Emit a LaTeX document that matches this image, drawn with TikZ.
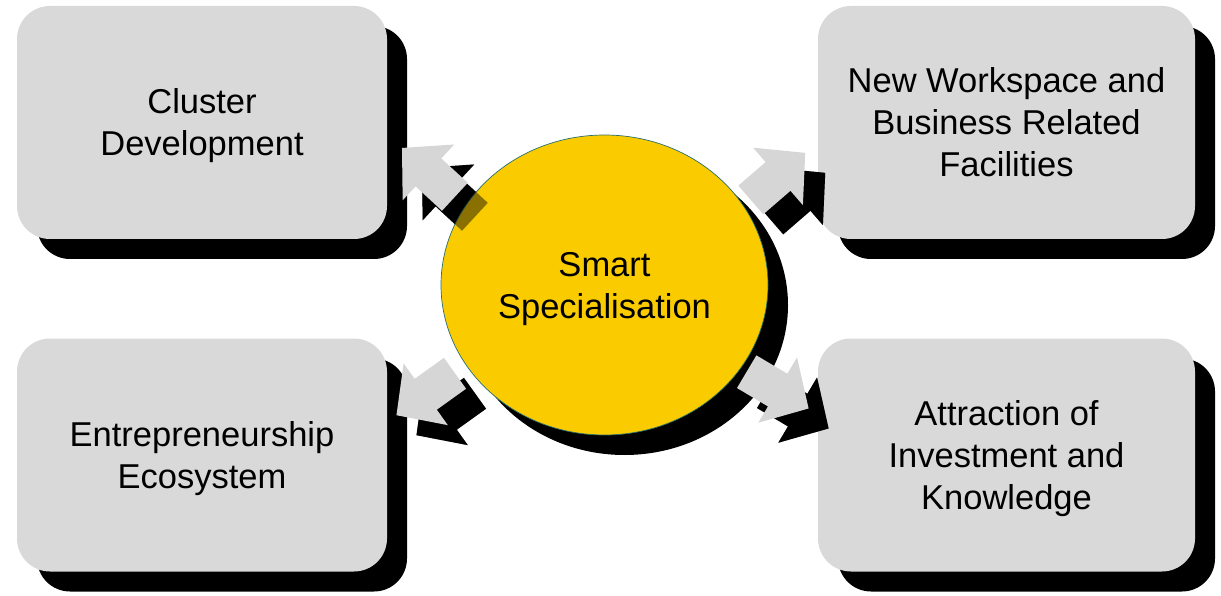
\documentclass[tikz,border=0pt]{standalone}
\usepackage{fontspec}
\setmainfont{Liberation Sans}
\usetikzlibrary{shapes.geometric,shadows}
\definecolor{boxgray}{RGB}{217,217,217}
\definecolor{arrowgray}{RGB}{214,214,214}
\definecolor{hubyellow}{RGB}{250,204,0}
\definecolor{hubline}{RGB}{40,110,110}
\begin{document}
\begin{tikzpicture}[x=1pt, y=-1pt,
	box/.style={rectangle, rounded corners=33pt, fill=boxgray, minimum width=370pt, minimum height=233pt, inner sep=0pt, align=center, font=\fontsize{34.5}{42}\selectfont, text depth=-7pt, drop shadow={shadow xshift=20pt, shadow yshift=-20pt, fill=black, opacity=1}},
	hub/.style={ellipse, fill=hubyellow, draw=hubline, line width=0.7pt, minimum width=327pt, minimum height=300pt, inner sep=0pt, align=center, font=\fontsize{34.5}{42}\selectfont, text depth=-7pt, drop shadow={shadow xshift=20pt, shadow yshift=-20pt, fill=black, opacity=1}},
	bigarrow/.pic={\path[pic actions] (0,-19) -- (36,-19) -- (36,-38) -- (72,0) -- (36,38) -- (36,19) -- (0,19) -- cycle;}]
	\useasboundingbox (0,0) rectangle (1221,596);
	\node (cluster) [box] at (202,122.5) {Cluster\\Development};
	\node (workspace) [box, minimum width=377pt, node distance=804.5pt, right of=cluster] {New Workspace and\\Business Related\\Facilities};
	\node (entre) [box, node distance=332.5pt, below of=cluster] {Entrepreneurship\\Ecosystem};
	\node (invest) [box, minimum width=377pt, node distance=804.5pt, right of=entre] {Attraction of\\Investment and\\Knowledge};
	\foreach \x/\y/\a in {454.9/196.8/137.3, 750.8/200/40.9, 455/373.3/-144.4, 746.7/371.7/-30.7}
		\pic[fill=black, rotate=\a] at (\x+20,\y+20) {bigarrow};
	\node (smart) [hub] at (604.5,285) {Smart\\Specialisation};
	\foreach \x/\y/\a in {454.9/196.8/137.3, 750.8/200/40.9, 455/373.3/-144.4, 746.7/371.7/-30.7}
		\pic[fill=black, fill opacity=0.45, rotate=\a] at (\x+20,\y+20) {bigarrow};
	\foreach \x/\y/\a in {454.9/196.8/137.3, 750.8/200/40.9, 455/373.3/-144.4, 746.7/371.7/-30.7}
		\pic[fill=arrowgray, rotate=\a] at (\x,\y) {bigarrow};
\end{tikzpicture}
\end{document}
